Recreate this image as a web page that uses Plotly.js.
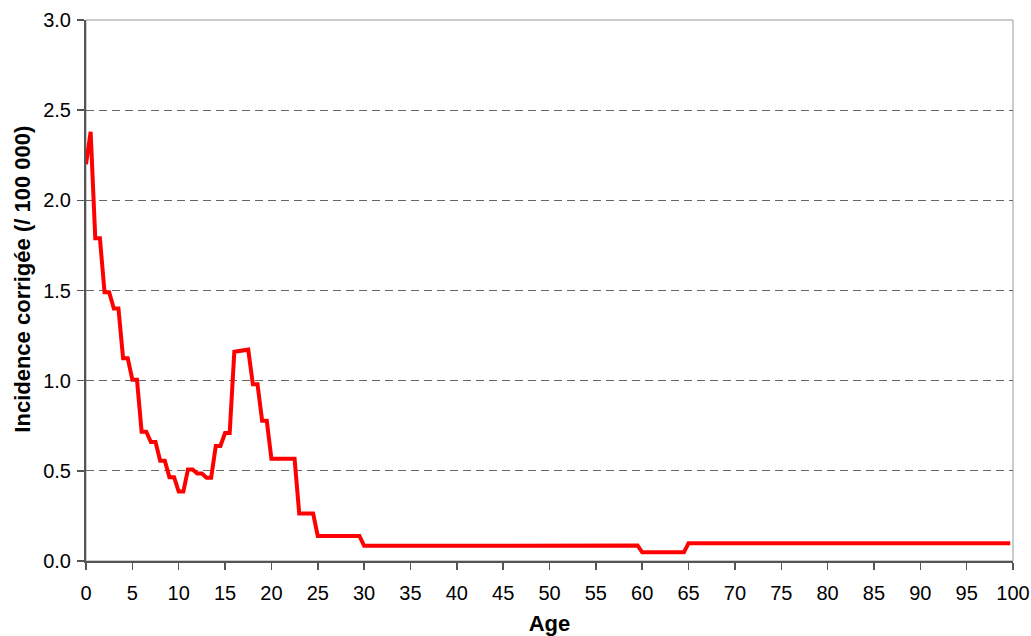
<!DOCTYPE html>
<html>
<head>
<meta charset="utf-8">
<script src="https://cdn.plot.ly/plotly-3.0.1.min.js"></script>
<style>html,body{margin:0;padding:0;background:#fff;}#chart{width:1031px;height:636px;}</style>
</head>
<body>
<div id="chart"></div>
<script>
const ages = [0, 0.5, 1, 1.5, 2, 2.5, 3, 3.5, 4, 4.5, 5, 5.5, 6, 6.5, 7, 7.5, 8, 8.5, 9, 9.5,
  10, 10.5, 11, 11.5, 12, 12.5, 13, 13.5, 14, 14.5, 15, 15.5, 16, 16.5, 17, 17.5, 18, 18.5, 19, 19.5,
  20, 22.5, 23, 24.5, 25, 29.5, 30, 40, 49.5, 50, 59.5, 60, 64.5, 65, 99.7];
const incidence = [2.20, 2.38, 1.79, 1.79, 1.49, 1.49, 1.40, 1.40, 1.125, 1.125, 1.005, 1.005, 0.717, 0.717, 0.66, 0.66, 0.556, 0.556, 0.465, 0.465,
  0.385, 0.385, 0.508, 0.508, 0.485, 0.485, 0.462, 0.462, 0.638, 0.638, 0.71, 0.71, 1.16, 1.165, 1.172, 1.172, 0.98, 0.98, 0.778, 0.778,
  0.567, 0.567, 0.264, 0.264, 0.139, 0.139, 0.084, 0.083, 0.083, 0.086, 0.086, 0.048, 0.048, 0.099, 0.099];
const xTitle = "Age";
const yTitle = "Incidence corrigée (/ 100 000)";

const font = "Liberation Sans, Arial, sans-serif";
const data = [{
  x: ages, y: incidence, type: "scatter", mode: "lines",
  line: {color: "#ff0000", width: 4}, hoverinfo: "skip"
}];
const layout = {
  width: 1031, height: 636,
  margin: {l: 86, r: 18, t: 20, b: 75},
  paper_bgcolor: "#fff", plot_bgcolor: "#fff",
  showlegend: false,
  font: {family: font, size: 20, color: "#000"},
  xaxis: {
    range: [0, 100], dtick: 5, tick0: 0, showgrid: false, zeroline: false,
    showline: true, linecolor: "#555", linewidth: 2,
    ticks: "outside", ticklen: 7, tickcolor: "#555", tickwidth: 1.5,
    ticklabelstandoff: 6,
    tickfont: {family: font, size: 20},
    title: {text: "<b>" + xTitle + "</b>", font: {family: font, size: 22}, standoff: 15}
  },
  yaxis: {
    range: [0, 3], dtick: 0.5, tick0: 0, tickformat: ".1f",
    showgrid: true, gridcolor: "#666", gridwidth: 1, griddash: "8px,5px",
    zeroline: false, showline: true, linecolor: "#555", linewidth: 2,
    ticks: "outside", ticklen: 7, tickcolor: "#555", tickwidth: 1.5,
    ticklabelstandoff: 2,
    tickfont: {family: font, size: 20}
  },
  annotations: [{
    text: "<b>" + yTitle + "</b>", textangle: -90, showarrow: false,
    xref: "paper", yref: "paper", x: -0.0685, y: 0.521,
    xanchor: "center", yanchor: "middle",
    font: {family: font, size: 22, color: "#000"}
  }],
  shapes: [{
    type: "rect", xref: "paper", yref: "paper", x0: 0, x1: 1, y0: 0, y1: 1,
    line: {color: "#999", width: 1}, layer: "below"
  }]
};
Plotly.newPlot("chart", data, layout, {displayModeBar: false, staticPlot: true});
</script>
</body>
</html>
